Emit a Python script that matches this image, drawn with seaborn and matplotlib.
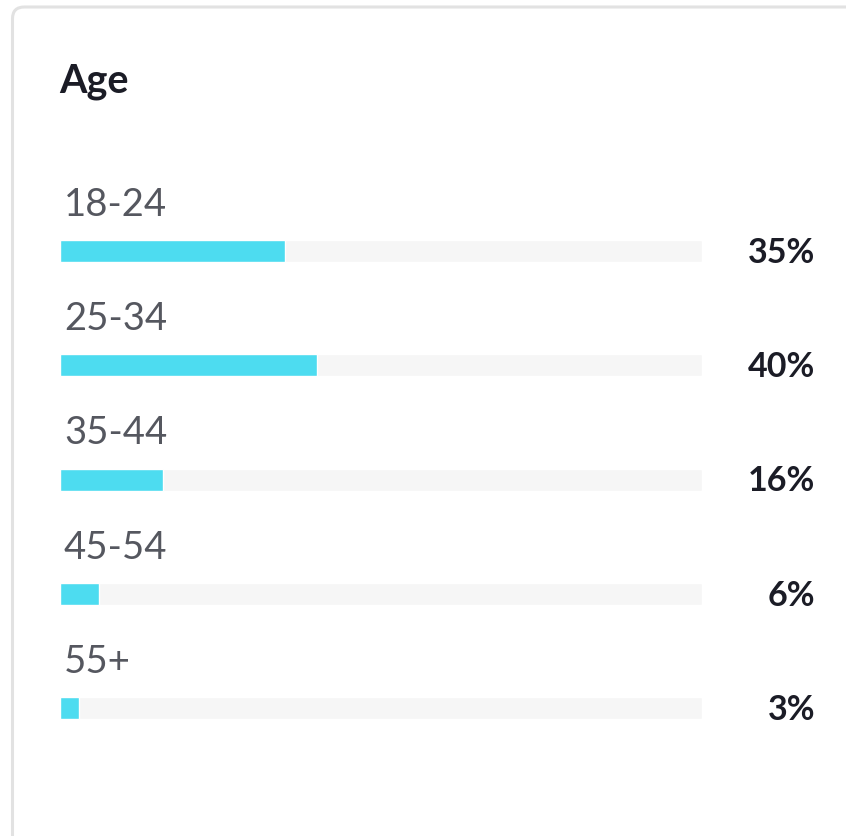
import matplotlib
matplotlib.use("Agg")
import matplotlib.pyplot as plt
from matplotlib.patches import FancyBboxPatch
import seaborn as sns
import pandas as pd

# age distribution
ages = ["18-24", "25-34", "35-44", "45-54", "55+"]
shares = [35, 40, 16, 6, 3]
track = [100, 100, 100, 100, 100]

df = pd.DataFrame({"age": ages, "share": shares, "track": track})

sns.set_theme(style="white")
plt.rcParams["font.family"] = ["Lato", "DejaVu Sans"]

W, H = 846, 837
fig = plt.figure(figsize=(W / 100, H / 100), dpi=100)
fig.patch.set_facecolor("white")

# card border
card = FancyBboxPatch((12.5 / W, 1 - (H + 40) / H), (W + 40) / W, (H + 32) / H,
                      boxstyle="round,pad=0,rounding_size=0.014",
                      transform=fig.transFigure, facecolor="white",
                      edgecolor="#e2e2e2", linewidth=2.2, zorder=-5)
fig.patches.append(card)

fig.text(59 / W, 1 - 82 / H, "Age", fontsize=28.5, fontweight="bold",
         color="#1b1c26", va="center", ha="left")

# axes: x 60..702 px, categories centered at 252 + i*114.25 px
row = 114.25
top = 252 - row / 2
ax = fig.add_axes([60 / W, 1 - (top + 5 * row) / H, 642 / W, 5 * row / H])
ax.set_zorder(2)
ax.patch.set_alpha(0)
bar_h = 22 / row

sns.barplot(data=df, x="track", y="age", color="#f6f6f6", width=bar_h,
            saturation=1, ax=ax, zorder=1)
sns.barplot(data=df, x="share", y="age", color="#4ddcf0", width=bar_h,
            saturation=1, ax=ax, zorder=2)

ax.set_xlim(0, 100)
ax.set_ylim(4.5, -0.5)
ax.axis("off")

for i, (a, s) in enumerate(zip(ages, shares)):
    ax.text(0.6, i - 47 / row, a, fontsize=27.5, color="#55575f",
            va="center", ha="left")
    ax.text((815 - 60) / 642 * 100, i + 1 / row, f"{s}%", fontsize=24.5,
            fontweight="bold", color="#1b1c26", va="center", ha="right",
            clip_on=False)

fig.savefig("out.png", dpi=100, facecolor="white")
